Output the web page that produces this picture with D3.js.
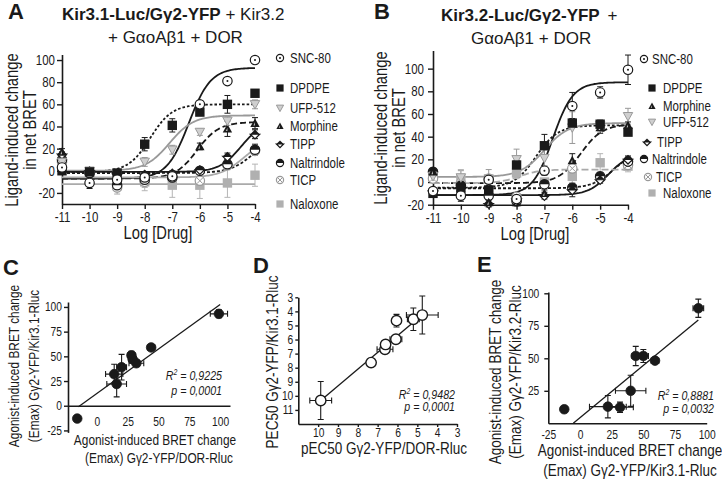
<!DOCTYPE html>
<html><head><meta charset="utf-8">
<script src="https://cdn.jsdelivr.net/npm/d3@7"></script>
<style>
body{margin:0;background:#fff;}
svg{display:block;}
</style></head><body>
<svg id="c" width="722" height="480"></svg>
<script>
// ---------------- DATA ----------------
const doses = [-11,-10,-9,-8,-7,-6,-5,-4];
const xTicksAB = [-11,-10,-9,-8,-7,-6,-5,-4];
const yTicksA = [-20,0,20,40,60,80,100];
const yTicksB = [-20,0,20,40,60,80,100];

const drugsA = ["SNC-80","DPDPE","UFP-512","Morphine","TIPP","Naltrindole","TICP","Naloxone"];
const meanA = [
  [3,-11,-8,-6,-5,60,81,100],
  [0,-1,-2,24,41,53,60,70],
  [8,0,-3,8,19,35,45,60],
  [17,0,-5,-5,-5,22,38,43],
  [15,0,-3,-3,-2,1,13,33],
  [10,-2,-13,-8,-6,0,6,19],
  [8,-2,-15,-10,-6,-9,5,18],
  [5,-1,-8,-10,-13,-13,-11,-4]
];
const semA = [
  [3,5,3,3,3,3,2,3],
  [2,2,2,6,6,3,8,2],
  [3,2,3,4,4,3,4,4],
  [3,2,3,3,3,3,7,5],
  [2,2,2,2,2,2,3,4],
  [3,2,4,4,3,2,4,5],
  [3,3,6,5,4,4,4,4],
  [3,3,5,8,11,12,13,10]
];
// [bottom, top, logEC50, hill]
const fitA = [
  [-7,93,-6.4,1.1],
  [-1,60,-7.8,1.1],
  [0,50,-7.1,1.0],
  [-7,44,-6.1,1.1],
  [-1,45,-4.5,1.1],
  [-2,35,-4.0,1.0],
  [-6,30,-4.4,1.0],
  [-12,-12,-7,1.0]
];

const drugsB = ["SNC-80","DPDPE","Morphine","UFP-512","TIPP","Naltrindole","TICP","Naloxone"];
const meanB = [
  [-8,-12,2,-15,10,67,79,99],
  [-10,-6,-7,15,32,52,51,44],
  [9,-5,-18,-18,-10,19,48,50],
  [5,4,3,20,21,48,50,58],
  [-8,-5,-19,-15,-12,-7,2,20],
  [9,-3,-12,-17,-2,-5,5,18],
  [3,-1,3,-13,10,12,4,15],
  [5,3,-8,8,0,5,17,14]
];
const semB = [
  [3,5,3,3,4,12,5,13],
  [3,3,4,4,10,4,3,3],
  [3,3,3,3,3,6,5,3],
  [5,6,8,9,9,14,5,7],
  [3,3,3,3,3,6,3,3],
  [3,3,3,3,3,3,3,4],
  [3,3,3,3,3,3,3,3],
  [4,8,4,5,3,8,8,5]
];
const fitB = [
  [-11.5,88,-6.7,1.2],
  [-5,50,-7.3,1.1],
  [-1,51,-5.7,1.1],
  [4.5,52,-7.0,1.0],
  [-11.5,25,-4.7,1.2],
  [-5.5,28,-4.5,1.1],
  null,
  [-1,11,-7.9,1.2]
];

// Panel C
const cX    = [99,44,28,29,32,20,14,16,-16];
const cY    = [93,59,51,47,43,39,32,22,-13];
const cXerr = [7,3,3,3,6,4,7,8,0];
const cYerr = [4,3,4,3,3,13,10,13,0];
const cFit  = {slope:0.9, intercept:12.5, from:-15, to:100};
const cXTicks = [0,25,50,75,100];
const cYTicks = [-25,0,25,50,75,100];
const cStats = ["0,9225","0,0001"];

// Panel D
const dX    = [9.87,7.33,6.63,6.6,6.08,6.05,5.2,4.75];
const dY    = [10.33,7.64,6.69,6.35,5.98,4.66,4.56,4.26];
const dXerr = [0.55,0.15,0.4,0.2,0.3,0.1,0.3,0.8];
const dYerr = [1.35,0.15,0.25,0.2,0.2,0.45,0.8,1.35];
const dFit  = {slope:1.19, intercept:-1.41, from:4.75, to:9.87};
const dXTicks = [10,9,8,7,6,5,4,3];
const dYTicks = [3,4,5,6,7,8,9,10,11];
const dStats = ["0,9482","0,0001"];

// Panel E
const eX    = [93.4,44,50,59.2,40,22,31.6,-12.4];
const eY    = [88.5,51.8,51.8,48.2,25,12.8,12.3,10.8];
const eXerr = [4.2,3,4,3,12,14.5,10.5,2];
const eYerr = [7,7.4,5,2,12,8.6,4,1];
const eFit  = {slope:0.806, intercept:4.27, from:-5.3, to:93.4};
const eXTicks = [-25,0,25,50,75,100];
const eYTicks = [25,50,75,100];
const eStats = ["0,8881","0,0032"];

// ---------------- STYLE ----------------
const REG = "'Liberation Sans',Arial,Helvetica,sans-serif";
const NARROW = REG;       // condensed look made by horizontal scaling
const SQ = 0.82;          // narrow factor
const INK = "#1a1a1a";
const fmt = d => String(d);
const styleOf = {
  "SNC-80":      {m:"circleDot",  line:INK,    dash:null,    err:INK},
  "DPDPE":       {m:"square",     line:INK,    dash:"2.6,2", err:INK},
  "UFP-512":     {m:"triDown",    line:"#999", dash:null,    err:"#999"},
  "Morphine":    {m:"triUp",      line:INK,    dash:"6,3",   err:INK},
  "TIPP":        {m:"diamondHalf",line:INK,    dash:null,    err:INK},
  "Naltrindole": {m:"circleHalf", line:INK,    dash:"3,2",   err:INK},
  "TICP":        {m:"circleX",    line:"#aaa", dash:null,    err:"#aaa"},
  "Naloxone":    {m:"greySquare", line:"#aaa", dash:null,    err:"#b5b5b5"}
};
const dashB = {"Naloxone":"7,3"};

const svg = d3.select("#c");
svg.append("rect").attr("width",722).attr("height",480).attr("fill","#fff");

function squeeze(sel){
  sel.each(function(){
    const x = +(this.getAttribute("x")||0);
    this.setAttribute("transform",`translate(${x*(1-SQ)},0) scale(${SQ},1)`);
  });
}

function marker(g, type, cx, cy, s){
  switch(type){
    case "circleDot":
      g.append("circle").attr("cx",cx).attr("cy",cy).attr("r",s).attr("fill","#fff").attr("stroke",INK).attr("stroke-width",1.2);
      g.append("circle").attr("cx",cx).attr("cy",cy).attr("r",1).attr("fill",INK);
      break;
    case "square":
      g.append("rect").attr("x",cx-s).attr("y",cy-s).attr("width",2*s).attr("height",2*s).attr("fill",INK);
      break;
    case "greySquare":
      g.append("rect").attr("x",cx-s).attr("y",cy-s).attr("width",2*s).attr("height",2*s).attr("fill","#b0b0b0");
      break;
    case "triDown":
      g.append("path").attr("d",`M${cx-s},${cy-s*0.8}L${cx+s},${cy-s*0.8}L${cx},${cy+s}Z`).attr("fill","#cfcfcf").attr("stroke","#9a9a9a").attr("stroke-width",1);
      break;
    case "triUp":
      g.append("path").attr("d",`M${cx-s},${cy+s*0.8}L${cx+s},${cy+s*0.8}L${cx},${cy-s}Z`).attr("fill",INK);
      g.append("path").attr("d",`M${cx-s*0.35},${cy+s*0.5}L${cx},${cy+s*0.5}L${cx},${cy-s*0.2}Z`).attr("fill","#bbb");
      break;
    case "diamondHalf":
      g.append("path").attr("d",`M${cx-s},${cy}L${cx},${cy-s}L${cx+s},${cy}Z`).attr("fill",INK);
      g.append("path").attr("d",`M${cx-s},${cy}L${cx},${cy+s}L${cx+s},${cy}Z`).attr("fill","#fff").attr("stroke",INK).attr("stroke-width",1.2);
      break;
    case "circleHalf":
      g.append("circle").attr("cx",cx).attr("cy",cy).attr("r",s).attr("fill","#fff").attr("stroke",INK).attr("stroke-width",1.2);
      g.append("path").attr("d",`M${cx-s},${cy}A${s},${s} 0 0 1 ${cx+s},${cy}Z`).attr("fill",INK);
      break;
    case "circleX": {
      g.append("circle").attr("cx",cx).attr("cy",cy).attr("r",s).attr("fill","#fff").attr("stroke","#999").attr("stroke-width",1.2);
      const k = s*0.62;
      g.append("path").attr("d",`M${cx-k},${cy-k}L${cx+k},${cy+k}M${cx-k},${cy+k}L${cx+k},${cy-k}`).attr("stroke","#999").attr("stroke-width",1);
      break; }
  }
}

function styleAxis(g, size){
  g.select(".domain").attr("stroke",INK).attr("stroke-width",1.6);
  g.selectAll(".tick line").attr("stroke",INK).attr("stroke-width",1.4);
  const t = g.selectAll(".tick text").attr("font-family",NARROW).attr("font-size",size).attr("fill",INK);
  squeeze(t);
}

function txt(x,y,s,size,opts={}){
  const t = svg.append("text").attr("x",x).attr("y",y).text(s)
    .attr("font-family",opts.family||NARROW).attr("font-size",size).attr("fill",INK)
    .attr("text-anchor",opts.anchor||"start");
  if(opts.weight) t.attr("font-weight",opts.weight);
  if(opts.italic) t.attr("font-style","italic");
  if(!opts.family) squeeze(t);
  return t;
}
function vtxt(x,y,s,size){
  return svg.append("text").attr("transform",`translate(${x},${y}) rotate(-90) scale(${SQ},1)`).text(s)
    .attr("font-family",NARROW).attr("font-size",size).attr("fill",INK).attr("text-anchor","middle");
}
const hill = (f,x)=> f[0] + (f[1]-f[0])/(1+Math.pow(10,(f[2]-x)*f[3]));

// ---------------- DOSE-RESPONSE PANELS ----------------
function doseResponse(cfg){
  const {drugs, mean, sem, fit, x, y, yTicks, legend, dashOverride, tickPadX, tickPadY} = cfg;
  const g = svg.append("g");
  const ax = g.append("g").attr("transform",`translate(0,${y.range()[0]})`)
    .call(d3.axisBottom(x).tickValues(xTicksAB).tickFormat(fmt).tickSize(5).tickSizeOuter(0).tickPadding(tickPadX));
  styleAxis(ax,14);
  const ay = g.append("g").attr("transform",`translate(${x.range()[0]},0)`)
    .call(d3.axisLeft(y).tickValues(yTicks).tickFormat(fmt).tickSize(5).tickSizeOuter(0).tickPadding(tickPadY));
  styleAxis(ay,14);
  const xs = d3.range(-11,-3.999,0.05);
  const line = d3.line().x(d=>x(d[0])).y(d=>y(d[1]));
  drugs.forEach((dname,i)=>{
    if(!fit[i]) return;
    const st = styleOf[dname];
    const dash = (dashOverride && dashOverride[dname]) || st.dash;
    g.append("path").datum(xs.map(v=>[v,hill(fit[i],v)])).attr("d",line)
      .attr("fill","none").attr("stroke",st.line).attr("stroke-width",1.8)
      .attr("stroke-dasharray",dash);
  });
  drugs.forEach((dname,i)=>{
    const st = styleOf[dname];
    doses.forEach((dv,j)=>{
      const m = mean[i][j], e = sem[i][j];
      if(m==null) return;
      const px = x(dv);
      g.append("path").attr("d",`M${px},${y(m-e)}V${y(m+e)}M${px-3},${y(m+e)}H${px+3}M${px-3},${y(m-e)}H${px+3}`)
        .attr("stroke",st.err).attr("stroke-width",1).attr("fill","none");
    });
  });
  for(let i=drugs.length-1;i>=0;i--){
    const st = styleOf[drugs[i]];
    doses.forEach((dv,j)=>{
      const m = mean[i][j];
      if(m==null) return;
      marker(g, st.m, x(dv), y(m), 4.7);
    });
  }
  drugs.forEach((dname,i)=>{
    const L = legend[i];
    marker(g, styleOf[dname].m, L[0], L[2], 3.6);
    txt(L[1], L[2]+5, dname, 14);
  });
}

const xA = d3.scaleLinear().domain([-11,-4]).range([62,255]);
const yA = d3.scaleLinear().domain([-30,105]).range([204,54.5]);
doseResponse({drugs:drugsA, mean:meanA, sem:semA, fit:fitA, x:xA, y:yA, yTicks:yTicksA, tickPadX:3, tickPadY:2,
  legend:[[280,290,58],[280,290,88],[280,290,108],[280,290,126],[280,290,144],[280,290,163],[280,290,180],[280,290,204]]});
const xB = d3.scaleLinear().domain([-11,-4]).range([433,628]);
const yB = d3.scaleLinear().domain([-20,116]).range([204.7,50.5]);
doseResponse({drugs:drugsB, mean:meanB, sem:semB, fit:fitB, x:xB, y:yB, yTicks:yTicksB, tickPadX:3.5, tickPadY:4, dashOverride:dashB,
  legend:[[644,652,59],[652,663,88],[652,663,106],[652,663,122],[647,657,142],[644,652,159],[648,656,177],[652,663,193]]});

txt(8,19,"A",22,{family:REG,weight:"bold"});
txt(374,19,"B",22,{family:REG,weight:"bold"});
{
  const t = svg.append("text").attr("x",62).attr("y",20).attr("font-family",REG).attr("font-size",17).attr("fill",INK);
  t.append("tspan").attr("font-weight","bold").text("Kir3.1-Luc/Gγ2-YFP");
  t.append("tspan").text(" + Kir3.2");
  txt(108,43,"+ GαoAβ1 + DOR",17,{family:REG});
  const t2 = svg.append("text").attr("x",441).attr("y",21).attr("font-family",REG).attr("font-size",17).attr("fill",INK);
  t2.append("tspan").attr("font-weight","bold").text("Kir3.2-Luc/Gγ2-YFP");
  t2.append("tspan").attr("dx",3).text(" +");
  txt(471,44,"GαoAβ1 + DOR",17,{family:REG});
}
vtxt(18,130,"Ligand-induced change",18);
vtxt(36,130,"in net BRET",18);
vtxt(387,128,"Ligand-induced change",18);
vtxt(405,128,"in net BRET",18);
txt(158,239,"Log [Drug]",18,{anchor:"middle"});
txt(535,240,"Log [Drug]",18,{anchor:"middle"});

// ---------------- SCATTER PANELS ----------------
function scatter(cfg){
  const {X,Y,Xe,Ye,x,y,fitL,open,r} = cfg;
  const g = svg.append("g");
  const ln = d3.line().x(d=>x(d[0])).y(d=>y(d[1]));
  g.append("path").datum([[fitL.from, fitL.slope*fitL.from+fitL.intercept],[fitL.to, fitL.slope*fitL.to+fitL.intercept]])
    .attr("d",ln).attr("stroke",INK).attr("stroke-width",1.3).attr("fill","none");
  X.forEach((xv,i)=>{
    const px=x(xv), py=y(Y[i]);
    let d="";
    if(Xe[i]>0){ const a=x(xv-Xe[i]), b=x(xv+Xe[i]); d+=`M${a},${py}H${b}M${a},${py-3}V${py+3}M${b},${py-3}V${py+3}`; }
    if(Ye[i]>0){ const a=y(Y[i]-Ye[i]), b=y(Y[i]+Ye[i]); d+=`M${px},${a}V${b}M${px-3},${a}H${px+3}M${px-3},${b}H${px+3}`; }
    if(d) g.append("path").attr("d",d).attr("stroke",INK).attr("stroke-width",1.1).attr("fill","none");
  });
  X.forEach((xv,i)=>{
    g.append("circle").attr("cx",x(xv)).attr("cy",y(Y[i])).attr("r",r)
      .attr("fill",open?"#fff":INK).attr("stroke",INK).attr("stroke-width",open?1.4:0.8);
  });
  return g;
}
function stats(xr,y1,y2,s,size){
  const t = svg.append("text").attr("x",xr).attr("y",y1).attr("text-anchor","end")
    .attr("font-family",NARROW).attr("font-size",size).attr("font-style","italic").attr("fill",INK);
  t.append("tspan").text("R");
  t.append("tspan").attr("font-size",size*0.65).attr("dy",-size*0.4).text("2");
  t.append("tspan").attr("dy",size*0.4).text(" = "+s[0]);
  squeeze(t);
  txt(xr,y2,"p = "+s[1],size,{anchor:"end",italic:true});
}

// Panel C
const xC = d3.scaleLinear().domain([-23.5,108]).range([68,230]);
const yC = d3.scaleLinear().domain([-27,105]).range([432.4,302]);
{
  const ax = svg.append("g").attr("transform",`translate(0,${yC(0)})`)
    .call(d3.axisBottom(xC).tickValues(cXTicks).tickFormat(fmt).tickSize(0).tickSizeOuter(0).tickPadding(11));
  styleAxis(ax,12.5);
  const ay = svg.append("g").attr("transform",`translate(${xC.range()[0]},0)`)
    .call(d3.axisLeft(yC).tickValues(cYTicks).tickFormat(fmt).tickSize(4).tickSizeOuter(0).tickPadding(2));
  styleAxis(ay,12.5);
  scatter({X:cX,Y:cY,Xe:cXerr,Ye:cYerr,x:xC,y:yC,fitL:cFit,open:false,r:4.8});
}
txt(3,275,"C",22,{family:REG,weight:"bold"});
vtxt(19,366,"Agonist-induced BRET change",14.5);
vtxt(39,366,"(Emax) Gγ2-YFP/Kir3.1-Rluc",14.5);
txt(155,445,"Agonist-induced BRET change",14.5,{anchor:"middle"});
txt(159,463,"(Emax) Gγ2-YFP/DOR-Rluc",14.5,{anchor:"middle"});
stats(222,380,395,cStats,13);

// Panel D
const xD = d3.scaleLinear().domain([11,3]).range([298.3,457]);
const yD = d3.scaleLinear().domain([3,12]).range([297.3,424]);
{
  const ax = svg.append("g").attr("transform",`translate(0,${yD.range()[1]})`)
    .call(d3.axisBottom(xD).tickValues(dXTicks).tickFormat(fmt).tickSize(3).tickSizeOuter(0).tickPadding(1.5));
  styleAxis(ax,12.5);
  const ay = svg.append("g").attr("transform",`translate(${xD.range()[0]},0)`)
    .call(d3.axisLeft(yD).tickValues(dYTicks).tickFormat(fmt).tickSize(3).tickSizeOuter(0).tickPadding(2));
  styleAxis(ay,12.5);
  scatter({X:dX,Y:dY,Xe:dXerr,Ye:dYerr,x:xD,y:yD,fitL:dFit,open:true,r:5.2});
}
txt(253,273,"D",22,{family:REG,weight:"bold"});
vtxt(278,362,"PEC50 Gγ2-YFP/Kir3.1-Rluc",16.5);
txt(384,454,"pEC50 Gγ2-YFP/DOR-Rluc",16.5,{anchor:"middle"});
stats(455,399,411,dStats,13);

// Panel E
const xE = d3.scaleLinear().domain([-25,100]).range([548.3,706.7]);
const yE = d3.scaleLinear().domain([0,101]).range([423.3,292]);
{
  const ax = svg.append("g").attr("transform",`translate(0,${yE.range()[0]})`)
    .call(d3.axisBottom(xE).tickValues(eXTicks).tickFormat(fmt).tickSize(0).tickSizeOuter(0).tickPadding(7));
  styleAxis(ax,12.5);
  const ay = svg.append("g").attr("transform",`translate(${xE.range()[0]},0)`)
    .call(d3.axisLeft(yE).tickValues(eYTicks).tickFormat(fmt).tickSize(4).tickSizeOuter(0).tickPadding(5));
  styleAxis(ay,12.5);
  scatter({X:eX,Y:eY,Xe:eXerr,Ye:eYerr,x:xE,y:yE,fitL:eFit,open:false,r:4.8});
}
txt(477,272,"E",22,{family:REG,weight:"bold"});
vtxt(501,372,"Agonist-induced BRET change",16.5);
vtxt(521,372,"(Emax) Gγ2-YFP/Kir3.2-Rluc",16.5);
txt(630,456,"Agonist-induced BRET change",16.5,{anchor:"middle"});
txt(630,476,"(Emax) Gγ2-YFP/Kir3.1-Rluc",16.5,{anchor:"middle"});
stats(714,400,413,eStats,13);
</script>
</body></html>
